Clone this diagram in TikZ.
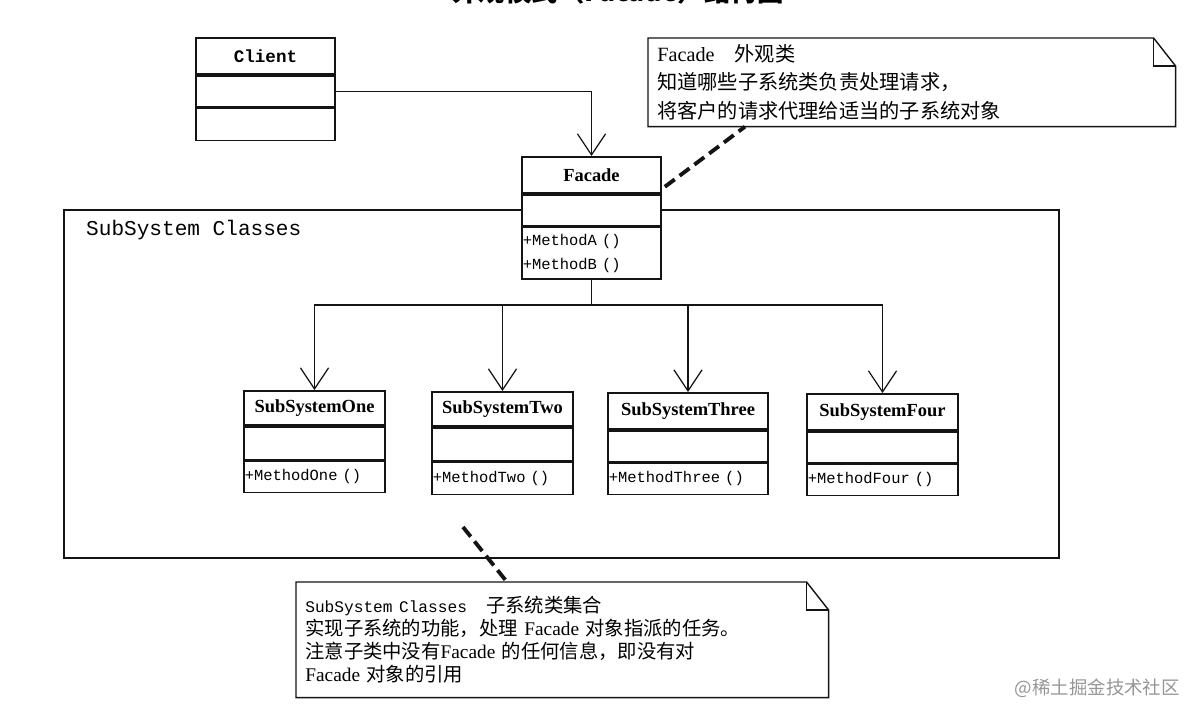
\documentclass[tikz,border=0pt]{standalone}
\usepackage{fontspec}
\setmainfont{Liberation Serif}
\setmonofont{Liberation Mono}
\newfontfamily\cjk{Noto Sans CJK SC}
\usetikzlibrary{arrows.meta, positioning, calc}
\definecolor{lineBlack}{RGB}{20,20,20}
\definecolor{markGray}{RGB}{150,150,150}
\tikzset{
    clsname/.style={
        rectangle,
        draw=lineBlack,
        line width=1pt,
        fill=white,
        anchor=north,
        minimum height=0.72cm,
        inner sep=1pt,
        font=\bfseries\fontsize{10.5}{12}\selectfont
    },
    clsbody/.style={
        rectangle,
        draw=lineBlack,
        line width=1pt,
        fill=white,
        anchor=north,
        minimum height=0.62cm,
        inner sep=0pt
    },
    clsops/.style={
        rectangle,
        draw=lineBlack,
        line width=1pt,
        fill=white,
        anchor=north,
        align=left,
        inner xsep=0.5pt,
        inner ysep=0pt,
        minimum height=0.62cm,
        font=\ttfamily\fontsize{8.8}{13.6}\selectfont
    },
    pkgframe/.style={rectangle, draw=lineBlack, line width=1pt, anchor=north west, inner sep=0pt},
    notebox/.style={rectangle, anchor=north west, align=left, inner xsep=0.18cm, inner ysep=0pt},
    noteline/.style={draw=lineBlack, line width=0.8pt},
    assoc/.style={-{Straight Barb[length=12pt, width=16pt]}, line width=0.7pt, draw=lineBlack},
    plainline/.style={line width=0.7pt, draw=lineBlack},
    notelink/.style={draw=lineBlack, line width=2.2pt, dash pattern=on 7pt off 3.5pt}
}

\begin{document}
\begin{tikzpicture}[x=0.02cm,y=0.02cm]
    \useasboundingbox (0,0) rectangle (1191,-704);

    % title, cut by the top edge
    \node[font=\cjk\bfseries\fontsize{15}{15}\selectfont] (title) at (618,9) {外观模式（Facade）结构图};

    % package frame
    \node[pkgframe, minimum width=19.9cm, minimum height=6.96cm] (pkg) at (63,-209) {};
    \node[anchor=west, font=\ttfamily\fontsize{12}{14}\selectfont] (pkg-label) at (80,-230) {SubSystem Classes};

    % client
    \node[clsname, minimum width=2.78cm, font=\ttfamily\bfseries\fontsize{10}{12}\selectfont] (client) at (265.5,-37) {Client};
    \node[clsbody, minimum width=2.78cm] (client-a) at (client.south) {};
    \node[clsbody, minimum width=2.78cm, minimum height=0.64cm] (client-m) at (client-a.south) {};

    % facade
    \node[clsname, minimum width=2.78cm] (facade) at (591.5,-156) {Facade};
    \node[clsbody, minimum width=2.78cm] (facade-a) at (facade.south) {};
    \node[clsops, text width=2.75cm, minimum height=1.04cm] (facade-m) at (facade-a.south) {+MethodA ()\\+MethodB ()};

    % subsystems
    \node[clsname, minimum width=2.82cm, minimum height=0.68cm] (sub1) at (314.5,-390) {SubSystemOne};
    \node[clsbody, minimum width=2.82cm, minimum height=0.66cm] (sub1-a) at (sub1.south) {};
    \node[clsops, text width=2.79cm] (sub1-m) at (sub1-a.south) {+MethodOne ()};

    \node[clsname, minimum width=2.82cm, minimum height=0.68cm] (sub2) at (502.5,-391) {SubSystemTwo};
    \node[clsbody, minimum width=2.82cm, minimum height=0.66cm] (sub2-a) at (sub2.south) {};
    \node[clsops, text width=2.79cm, minimum height=0.64cm] (sub2-m) at (sub2-a.south) {+MethodTwo ()};

    \node[clsname, minimum width=3.2cm] (sub3) at (688,-392) {SubSystemThree};
    \node[clsbody, minimum width=3.2cm] (sub3-a) at (sub3.south) {};
    \node[clsops, text width=3.17cm] (sub3-m) at (sub3-a.south) {+MethodThree ()};

    \node[clsname, minimum width=3.02cm] (sub4) at (882.5,-393) {SubSystemFour};
    \node[clsbody, minimum width=3.02cm] (sub4-a) at (sub4.south) {};
    \node[clsops, text width=2.99cm] (sub4-m) at (sub4-a.south) {+MethodFour ()};

    % connectors
    \draw[assoc] (client-a.east) -| (facade.north);
    \coordinate (fork) at (591.5,-305);
    \draw[plainline] (facade-m.south) -- (fork);
    \draw[assoc] (fork) -| (sub1.north);
    \draw[assoc] (fork) -| (sub2.north);
    \draw[assoc] (fork) -| (sub3.north);
    \draw[assoc] (fork) -| (sub4.north);

    % notes
    \node[notebox, minimum width=10.54cm, minimum height=1.76cm, text width=10.18cm,
          font=\fontsize{11.5}{16}\selectfont] (fnote) at (648,-38)
        {Facade\quad{\cjk 外观类}\\
         {\cjk 知道哪些子系统类负责处理请求，}\\
         {\cjk 将客户的请求代理给适当的子系统对象}};
    \draw[noteline] (fnote.north west) -- ($(fnote.north east)+(-22,0)$) -- ($(fnote.north east)+(0,-28)$)
        -- (fnote.south east) -- (fnote.south west) -- cycle;
    \draw[noteline] ($(fnote.north east)+(-22,0)$) |- ($(fnote.north east)+(0,-28)$);

    \node[notebox, minimum width=10.64cm, minimum height=2.3cm, text width=10.28cm,
          font=\fontsize{11}{13}\selectfont] (snote) at (296,-582)
        {{\ttfamily\fontsize{9.2}{13}\selectfont SubSystem Classes}\quad{\cjk 子系统类集合}\\
         {\cjk 实现子系统的功能，处理} Facade {\cjk 对象指派的任务。}\\
         {\cjk 注意子类中没有}Facade {\cjk 的任何信息，即没有对}\\
         Facade {\cjk 对象的引用}};
    \draw[noteline] (snote.north west) -- ($(snote.north east)+(-22,0)$) -- ($(snote.north east)+(0,-28)$)
        -- (snote.south east) -- (snote.south west) -- cycle;
    \draw[noteline] ($(snote.north east)+(-22,0)$) |- ($(snote.north east)+(0,-28)$);

    % note links
    \draw[notelink] ($(facade.south east)+(3,7)$) -- ($(fnote.south west)+(97,0)$);
    \coordinate (pkg-tail) at (463,-527);
    \draw[notelink] (pkg-tail) -- ($(snote.north west)+(211,0)$);

    % watermark
    \node[anchor=east, text=markGray, font=\cjk\fontsize{10.5}{12}\selectfont] (mark) at (1186,-688) {@稀土掘金技术社区};
\end{tikzpicture}
\end{document}
